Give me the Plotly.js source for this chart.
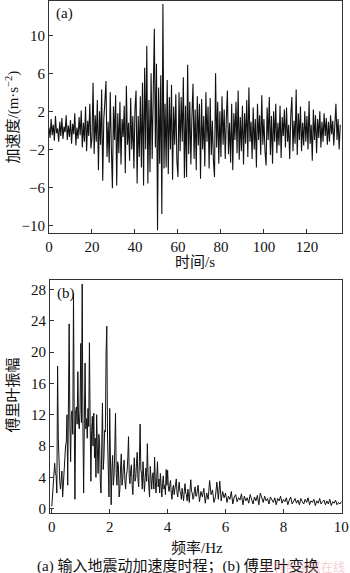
<!DOCTYPE html>
<html>
<head>
<meta charset="utf-8">
<script src="https://cdn.plot.ly/plotly-3.0.1.min.js"></script>
<style>html,body{margin:0;padding:0;background:#fff;}#chart{width:350px;height:573px;}</style>
</head>
<body>
<div id="chart"></div>
<script>
// ---- Data ----
// (a) acceleration time history, sampled every 0.5 s from t = 0 s
const timeStep = 0.5;
const accel = [
  0.3,-0.8,1.2,-0.5,0.6,-1.1,1.5,-0.3,0.2,-1.2,0.9,-0.6,1.3,-0.9,0.4,-0.2,1.6,-1.0,0.5,-0.7,
  1.1,-1.4,0.7,-0.4,1.8,-1.6,0.3,-0.9,1.4,-0.5,2.1,-1.8,0.8,-1.2,2.5,-2.2,1.0,-0.6,2.8,-1.9,
  -0.8,5.0,-2.5,1.6,-1.2,3.2,-4.2,2.0,-1.5,4.3,-5.3,1.2,3.0,5.2,-2.8,0.9,-3.4,4.0,-1.8,-6.1,
  2.5,-1.0,3.7,-5.8,1.8,-2.4,3.0,-3.6,1.2,-0.7,2.6,-4.5,4.7,-1.5,0.8,-3.2,3.4,-2.0,1.5,-4.0,
  2.2,4.2,-5.6,1.5,-2.8,3.6,-3.9,5.0,-5.8,6.6,-2.0,8.9,-5.6,3.2,-4.4,6.0,-3.0,2.4,10.7,-1.8,
  7.0,-10.5,4.5,-3.5,5.8,-8.8,13.3,-4.0,2.8,-3.9,5.3,-4.6,3.5,-2.0,4.8,-5.2,2.5,-1.5,3.8,-3.2,
  -4.9,4.0,-2.2,3.5,-1.2,5.6,-5.0,2.6,-4.9,6.9,-2.5,3.0,-3.6,1.5,4.9,-3.0,2.2,-4.2,3.6,-1.6,
  2.8,-5.1,3.3,-2.0,1.5,-3.8,4.0,-1.2,2.5,-4.0,3.4,-2.6,1.0,-3.2,-4.9,6.0,-1.8,3.0,-3.5,2.0,
  -2.8,3.6,-1.5,2.2,-3.0,1.2,4.2,-2.5,0.8,-3.4,2.8,-4.2,1.8,-1.0,3.0,-2.4,4.2,-3.1,1.4,-2.2,
  2.6,-3.6,1.8,-1.4,3.2,-2.8,4.5,-1.2,0.9,-3.0,2.4,-2.0,1.2,-3.9,2.8,-1.0,1.6,-2.6,3.7,-1.5,
  1.2,-2.2,-3.7,2.4,-1.0,3.5,-2.6,1.5,-3.5,2.0,-1.2,2.8,-2.4,0.8,-1.6,2.6,-2.9,1.4,-0.6,2.2,
  -1.8,2.4,-1.2,0.6,-3.0,1.6,3.5,-2.2,1.0,-1.4,4.3,-2.6,1.8,-1.0,2.5,-2.2,0.8,-1.6,2.0,-1.2,
  1.5,-2.0,3.1,-1.4,0.6,-3.2,2.2,-1.0,1.6,-2.4,1.2,-0.8,2.0,-1.8,0.9,-1.2,1.8,-0.6,1.3,-1.5,
  0.9,-1.2,1.6,-0.4,1.0,-1.6,0.5,2.8,-1.0,1.2,-2.0,0.6
];
// (b) Fourier amplitude spectrum
// 0 – 4.975 Hz, every 0.025 Hz
const freqStepLow = 0.025;
const fourierAmpLow = [
  0.3,2.0,3.0,5.5,5.8,4.5,4.2,2.0,18.2,9.0,5.0,3.5,2.5,4.5,4.8,1.5,3.2,5.5,6.0,8.0,
  8.5,12.0,3.0,10.5,23.6,11.0,6.0,12.0,12.5,9.5,27.4,11.5,1.2,12.5,13.0,10.8,17.5,11.0,10.2,12.5,
  21.1,11.0,28.7,10.5,2.0,11.5,18.6,10.2,11.5,9.0,12.8,10.5,21.2,11.0,3.5,10.0,11.8,8.0,12.2,6.5,
  9.0,4.0,12.0,7.5,4.5,9.5,8.5,3.5,2.0,8.0,13.5,5.0,6.5,10.0,9.8,20.0,23.3,9.0,5.0,1.5,
  12.8,4.0,0.5,5.0,6.8,3.0,4.2,7.5,12.2,4.5,3.0,6.0,5.5,1.5,2.4,5.2,7.0,3.0,3.8,5.5,
  6.2,3.5,2.5,4.2,4.8,6.5,9.2,4.0,3.2,5.0,5.6,3.0,1.8,4.5,6.5,3.5,4.0,5.8,7.2,3.8,
  2.8,6.0,10.8,5.0,4.5,2.5,6.0,4.0,2.2,4.0,5.2,3.5,8.3,4.5,3.0,1.5,5.4,3.5,2.5,4.2,
  4.6,2.5,6.6,3.5,2.0,4.0,6.0,2.8,3.8,2.0,4.5,3.0,1.5,3.2,4.2,2.5,3.0,1.8,5.0,3.0,
  4.9,2.8,2.2,3.0,3.6,2.0,1.2,2.5,3.0,1.8,2.4,3.2,3.8,2.0,1.5,2.6,3.4,2.2,2.0,1.2,
  2.6,1.8,1.0,2.2,3.2,2.0,1.8,1.0,2.5,1.6,0.8,2.4,3.7,2.2,2.0,1.2,1.4,2.4,2.8,1.6
];
// 5.0 – 10.0 Hz, every 0.05 Hz
const freqStartHigh = 5.0;
const freqStepHigh = 0.05;
const fourierAmpHigh = [
  1.6,3.0,0.9,2.2,1.5,2.6,0.7,2.0,1.2,3.6,
  1.8,2.4,0.8,1.5,3.4,1.2,3.5,1.0,2.2,1.4,
  2.0,0.8,1.6,1.2,2.2,0.6,1.5,1.8,0.9,1.4,
  1.1,1.9,0.5,1.6,1.0,1.4,0.7,1.8,1.2,0.6,
  1.5,1.0,1.7,0.5,2.0,1.2,0.8,1.6,1.0,1.3,
  0.6,1.5,1.1,0.8,1.4,0.5,1.3,1.0,1.6,0.7,
  1.2,0.9,1.4,0.5,1.1,1.5,0.6,1.0,1.3,0.7,
  1.1,0.5,1.3,0.9,0.6,1.2,0.8,1.4,0.5,1.0,
  0.8,1.2,0.4,1.0,0.7,1.3,0.6,0.9,1.1,0.5,
  1.0,0.6,1.2,0.4,0.9,0.7,1.1,0.5,0.8,0.6,0.9
];
const timeTicks = [0,20,40,60,80,100,120];
const accelTicks = [-10,-6,-2,2,6,10];
const freqTicks = [0,2,4,6,8,10];
const ampTicks = [0,4,8,12,16,20,24,28];

const timeAxis = accel.map((_, i) => i * timeStep);
const freqAxis = fourierAmpLow.map((_, i) => +(i * freqStepLow).toFixed(3))
  .concat(fourierAmpHigh.map((_, i) => +(freqStartHigh + i * freqStepHigh).toFixed(3)));
const fourierAmp = fourierAmpLow.concat(fourierAmpHigh);

const FONT = 'Liberation Serif, "Times New Roman", "Noto Sans CJK SC", serif';
const CJK = '"Noto Sans CJK SC", sans-serif';
const lineStyle = {color: '#111', width: 1.1};

const data = [
  {x: timeAxis, y: accel, type: 'scatter', mode: 'lines', line: lineStyle, xaxis: 'x', yaxis: 'y', hoverinfo: 'skip'},
  {x: freqAxis, y: fourierAmp, type: 'scatter', mode: 'lines', line: {color: '#111', width: 1.0}, xaxis: 'x2', yaxis: 'y2', hoverinfo: 'skip'}
];

const axisCommon = {
  showline: true, mirror: true, linecolor: '#333', linewidth: 1,
  ticks: 'inside', ticklen: 4, tickcolor: '#333', tickwidth: 1,
  showgrid: false, zeroline: false,
  tickfont: {family: FONT, size: 15, color: '#111'}
};

const layout = {
  width: 350, height: 573,
  margin: {l: 0, r: 0, t: 0, b: 0},
  paper_bgcolor: '#fff', plot_bgcolor: '#fff',
  showlegend: false,
  xaxis: Object.assign({}, axisCommon, {domain: [0.14, 0.977], range: [0, 136.3], tickvals: timeTicks, anchor: 'y'}),
  yaxis: Object.assign({}, axisCommon, {domain: [0.5934, 0.998], range: [-10.8, 13.6], tickvals: accelTicks, anchor: 'x'}),
  xaxis2: Object.assign({}, axisCommon, {domain: [0.143, 0.977], range: [-0.06, 10.02], tickvals: freqTicks, anchor: 'y2'}),
  yaxis2: Object.assign({}, axisCommon, {domain: [0.1047, 0.5113], range: [-0.55, 29.2], tickvals: ampTicks, anchor: 'x2'}),
  annotations: [
    {text: '(a)', xref: 'paper', yref: 'paper', x: 0.155, y: 0.977, xanchor: 'left', yanchor: 'middle', showarrow: false, font: {family: FONT, size: 15, color: '#111'}},
    {text: '(b)', xref: 'paper', yref: 'paper', x: 0.158, y: 0.488, xanchor: 'left', yanchor: 'middle', showarrow: false, font: {family: FONT, size: 15, color: '#111'}},
    {text: '时间/s', xref: 'paper', yref: 'paper', x: 0.557, y: 0.543, xanchor: 'center', yanchor: 'middle', showarrow: false, font: {family: FONT, size: 15, color: '#111'}},
    {text: '加速度/(m·s<sup>−2</sup>)', xref: 'paper', yref: 'paper', x: 0.036, y: 0.796, xanchor: 'center', yanchor: 'middle', textangle: -90, showarrow: false, font: {family: FONT, size: 15, color: '#111'}},
    {text: '频率/Hz', xref: 'paper', yref: 'paper', x: 0.563, y: 0.0436, xanchor: 'center', yanchor: 'middle', showarrow: false, font: {family: FONT, size: 15, color: '#111'}},
    {text: '傅里叶振幅', xref: 'paper', yref: 'paper', x: 0.036, y: 0.311, xanchor: 'center', yanchor: 'middle', textangle: -90, showarrow: false, font: {family: FONT, size: 15, color: '#111'}},
    {text: '(a) 输入地震动加速度时程；(b) 傅里叶变换', xref: 'paper', yref: 'paper', x: 0.1, y: 0.0122, xanchor: 'left', yanchor: 'middle', showarrow: false, font: {family: FONT, size: 15, color: '#111'}},
    {text: '©有色金属在线', xref: 'paper', yref: 'paper', x: 0.99, y: 0.011, xanchor: 'right', yanchor: 'middle', showarrow: false, font: {family: CJK, size: 12, color: 'rgba(240,150,165,0.5)'}}
  ]
};

Plotly.newPlot('chart', data, layout, {staticPlot: true, displayModeBar: false});
</script>
</body>
</html>
